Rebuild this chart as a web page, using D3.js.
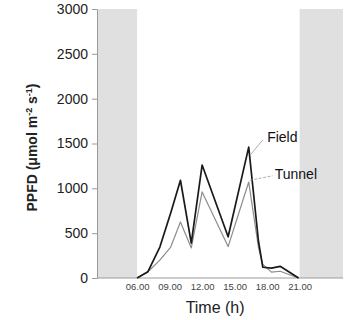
<!DOCTYPE html>
<html>
<head>
<meta charset="utf-8">
<script src="https://cdn.jsdelivr.net/npm/d3@7"></script>
<style>
  body { margin: 0; background: #fff; }
  svg { font-family: "Liberation Sans", Arial, sans-serif; }
</style>
</head>
<body>
<div id="chart"></div>
<script>
// time of day (h) for each sample
const hours = [6.0, 7.0, 8.1, 9.1, 10.0, 11.0, 12.0, 14.4, 16.3, 17.2, 17.6, 18.4, 19.2, 20.9];
const field = [0, 70, 345, 725, 1090, 390, 1260, 460, 1460, 410, 120, 110, 130, 0];
const tunnel = [0, 70, 200, 345, 625, 335, 960, 350, 1070, 340, 150, 65, 75, 0];

const yTicks = [0, 500, 1000, 1500, 2000, 2500, 3000];
const xTicks = [6, 9, 12, 15, 18, 21];
const xTickLabels = ["06.00", "09.00", "12.00", "15.00", "18.00", "21.00"];
const nights = [[2.3, 6], [21, 25]];

const width = 347, height = 320;
const margin = {left: 97, right: 4, top: 9, bottom: 42};

const svg = d3.select("#chart").append("svg")
    .attr("width", width)
    .attr("height", height);

const x = d3.scaleLinear().domain([2.3, 25]).range([margin.left, width - margin.right]);
const y = d3.scaleLinear().domain([0, 3000]).range([height - margin.bottom, margin.top]);

// night shading
svg.selectAll("rect.night")
    .data(nights)
    .join("rect")
    .attr("class", "night")
    .attr("x", d => x(d[0]))
    .attr("y", y(3000))
    .attr("width", d => x(d[1]) - x(d[0]))
    .attr("height", y(0) - y(3000))
    .attr("fill", "#e0e0e0");

// y axis
const yAxis = svg.append("g")
    .attr("transform", `translate(${margin.left},0)`)
    .call(d3.axisLeft(y).tickValues(yTicks).tickSize(5).tickPadding(4).tickSizeOuter(0)
        .tickFormat(d3.format("d")));
yAxis.select(".domain").attr("stroke", "#9a9a9a");
yAxis.selectAll(".tick line").attr("stroke", "#9a9a9a");
yAxis.selectAll("text").attr("font-size", 14).attr("fill", "#222")
    .attr("font-family", "Liberation Sans, Arial, sans-serif");

// x axis
const xAxis = svg.append("g")
    .attr("transform", `translate(0,${y(0)})`)
    .call(d3.axisBottom(x).tickValues(xTicks).tickSize(0).tickPadding(5)
        .tickFormat((d, i) => xTickLabels[i]));
xAxis.select(".domain").attr("stroke", "#9a9a9a").attr("d", `M${x(2.3)},0H${x(25)}`);
xAxis.selectAll("text").attr("font-size", 9.5).attr("fill", "#444")
    .attr("font-family", "Liberation Sans, Arial, sans-serif");

// lines
const line = d3.line()
    .x((d, i) => x(hours[i]))
    .y(d => y(d));

svg.append("path")
    .datum(tunnel)
    .attr("fill", "none")
    .attr("stroke", "#8c8c8c")
    .attr("stroke-width", 1.2)
    .attr("stroke-linejoin", "round")
    .attr("d", line);

svg.append("path")
    .datum(field)
    .attr("fill", "none")
    .attr("stroke", "#1a1a1a")
    .attr("stroke-width", 1.7)
    .attr("stroke-linejoin", "round")
    .attr("d", line);

// series labels with leader lines
svg.append("line")
    .attr("x1", x(16.5)).attr("y1", y(1380))
    .attr("x2", x(17.6)).attr("y2", y(1540))
    .attr("stroke", "#999").attr("stroke-width", 0.8);
svg.append("text")
    .attr("x", x(18.0)).attr("y", y(1520))
    .attr("font-size", 14).attr("fill", "#111")
    .text("Field");

svg.append("line")
    .attr("x1", x(16.4)).attr("y1", y(1090))
    .attr("x2", x(18.5)).attr("y2", y(1140))
    .attr("stroke", "#999").attr("stroke-width", 0.8)
    .attr("stroke-dasharray", "3,1.5");
svg.append("text")
    .attr("x", x(18.7)).attr("y", y(1100))
    .attr("font-size", 14).attr("fill", "#111")
    .text("Tunnel");

// axis titles
svg.append("text")
    .attr("x", x(13.2)).attr("y", 313)
    .attr("text-anchor", "middle")
    .attr("font-size", 16).attr("fill", "#222")
    .text("Time (h)");

const yTitle = svg.append("text")
    .attr("transform", `translate(37,${(y(0) + y(3000)) / 2 + 4}) rotate(-90)`)
    .attr("text-anchor", "middle")
    .attr("font-size", 14).attr("font-weight", "bold").attr("fill", "#222");
yTitle.append("tspan").text("PPFD (μmol m");
yTitle.append("tspan").attr("dy", -5).attr("font-size", 9).text("-2");
yTitle.append("tspan").attr("dy", 5).text(" s");
yTitle.append("tspan").attr("dy", -5).attr("font-size", 9).text("-1");
yTitle.append("tspan").attr("dy", 5).text(")");
</script>
</body>
</html>
